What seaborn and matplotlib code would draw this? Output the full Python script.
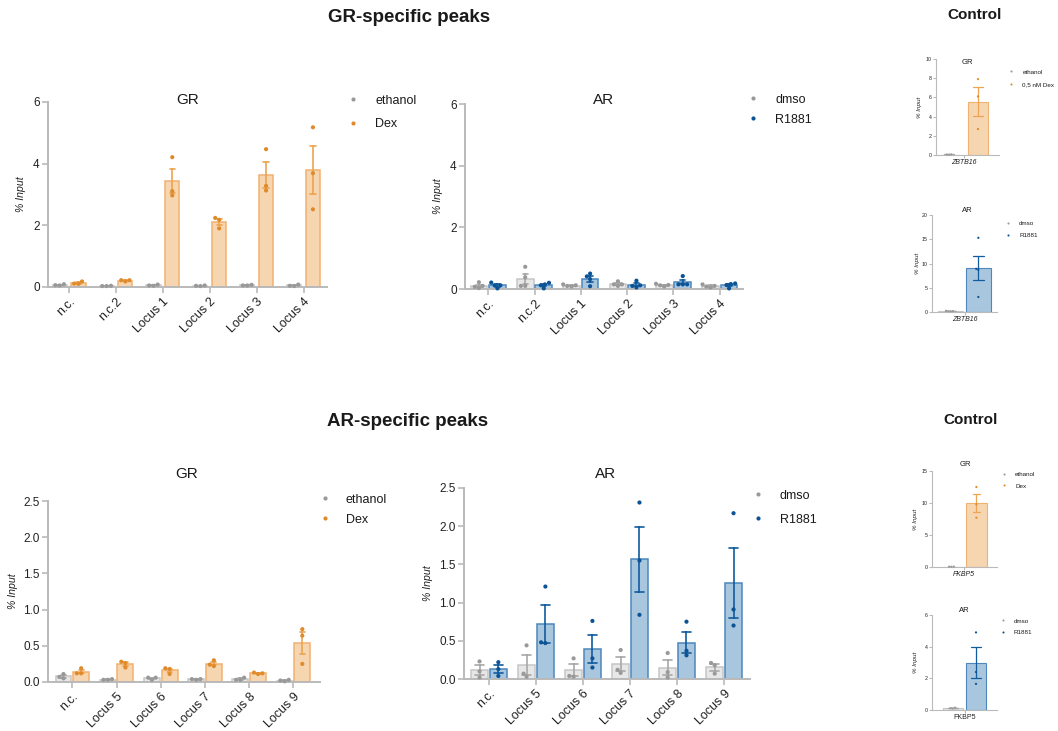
import numpy as np
import pandas as pd
import matplotlib
matplotlib.use("Agg")
import matplotlib.pyplot as plt
from matplotlib.lines import Line2D
import seaborn as sns

W, H = 1058, 731

sns.set_theme(style="ticks")
plt.rcParams["font.family"] = ["Liberation Sans", "DejaVu Sans"]

# ---------------- data: % input per replicate ----------------
gr_loci = ["n.c.", "n.c.2", "Locus 1", "Locus 2", "Locus 3", "Locus 4"]
gr_ethanol = [[0.05, 0.09, 0.06], [0.03, 0.04, 0.03], [0.04, 0.08, 0.05],
              [0.03, 0.05, 0.04], [0.05, 0.07, 0.05], [0.03, 0.08, 0.04]]
gr_dex = [[0.11, 0.18, 0.10], [0.18, 0.22, 0.22], [4.21, 3.11, 2.97],
          [2.24, 2.18, 1.90], [4.47, 3.28, 3.13], [5.18, 3.69, 2.52]]

ar_loci = ["n.c.", "n.c.2", "Locus 1", "Locus 2", "Locus 3", "Locus 4"]
ar_dmso = [[0.03, 0.22, 0.10, 0.07], [0.72, 0.38, 0.10, 0.10], [0.08, 0.15, 0.12, 0.10],
           [0.10, 0.25, 0.15, 0.15], [0.08, 0.17, 0.12, 0.13], [0.05, 0.10, 0.08, 0.15]]
ar_r1881 = [[0.21, 0.02, 0.12, 0.12], [0.20, 0.02, 0.15, 0.12], [0.41, 0.50, 0.09, 0.32],
            [0.05, 0.27, 0.12, 0.10], [0.42, 0.15, 0.15, 0.15], [0.18, 0.02, 0.13, 0.16]]

gr2_loci = ["n.c.", "Locus 5", "Locus 6", "Locus 7", "Locus 8", "Locus 9"]
gr2_ethanol = [[0.11, 0.05, 0.07], [0.03, 0.04, 0.03], [0.03, 0.06, 0.06],
               [0.03, 0.04, 0.04], [0.03, 0.06, 0.03], [0.01, 0.03, 0.02]]
gr2_dex = [[0.19, 0.12, 0.12], [0.28, 0.26, 0.20], [0.19, 0.18, 0.11],
           [0.30, 0.22, 0.24], [0.11, 0.13, 0.12], [0.73, 0.64, 0.25]]

ar2_loci = ["n.c.", "Locus 5", "Locus 6", "Locus 7", "Locus 8", "Locus 9"]
ar2_dmso = [[0.23, 0.10, 0.02], [0.44, 0.07, 0.03], [0.27, 0.04, 0.03],
            [0.38, 0.12, 0.08], [0.34, 0.09, 0.02], [0.21, 0.18, 0.07]]
ar2_r1881 = [[0.22, 0.13, 0.04], [1.21, 0.47, 0.48], [0.76, 0.27, 0.15],
             [2.31, 1.55, 0.84], [0.75, 0.37, 0.31], [2.17, 0.91, 0.70]]

# control loci
zbtb16_gr_ethanol = [[0.04, 0.06, 0.05]]
zbtb16_gr_dex = [[7.9, 6.1, 2.7]]
zbtb16_ar_dmso = [[0.15, 0.25, 0.20, 0.18]]
zbtb16_ar_r1881 = [[15.3, 8.7, 8.9, 3.1]]
fkbp5_gr_ethanol = [[0.04, 0.06, 0.05]]
fkbp5_gr_dex = [[12.5, 9.8, 7.7]]
fkbp5_ar_dmso = [[0.10, 0.15, 0.12]]
fkbp5_ar_r1881 = [[4.9, 2.4, 1.65]]

# ---------------- styling ----------------
GREY = dict(fill="#e7e7e7", edge="#c6c6c6", err="#a8a8a8", pt="#999999")
ORANGE = dict(fill="#f6d6b1", edge="#f1b170", err="#eea452", pt="#df8b2b")
BLUE = dict(fill="#a9c6df", edge="#4d87bd", err="#115c9e", pt="#0b5394")
SPINE = "#bababa"

fig = plt.figure(figsize=(W / 100, H / 100), dpi=100)


def rect(l, t, r, b):
    return [l / W, 1 - b / H, (r - l) / W, (b - t) / H]


def fx(x):
    return x / W


def fy(y):
    return 1 - y / H


def long_frame(loci, groups):
    rows = []
    for treat, reps in groups.items():
        for locus, vals in zip(loci, reps):
            for v in vals:
                rows.append((locus, treat, v))
    return pd.DataFrame(rows, columns=["locus", "treat", "value"])


def add_legend(ax, labels, colors, mx, y1, y2, tx, fs, ms):
    fpx = fs * 100 / 72
    hl = 1.0
    rowh = 1.12 * fpx
    htp = (tx - mx) / fpx - hl / 2
    handles = [Line2D([], [], marker="o", linestyle="none", markersize=ms,
                      markerfacecolor=c, markeredgewidth=0) for c in colors]
    ax.legend(handles, labels, loc="upper left", frameon=False, fontsize=fs,
              handlelength=hl, handletextpad=htp,
              labelspacing=(y2 - y1 - rowh) / fpx,
              borderpad=0, borderaxespad=0,
              bbox_to_anchor=(fx(mx - hl * fpx / 2), fy(y1 - rowh / 2)),
              bbox_transform=fig.transFigure, labelcolor="#1a1a1a")


def bar_panel(box, loci, groups, styles, ylim, yticks, gap, capsize, xlim,
              ms, small=False, ylab_dx=-22, italic_x=False, tick_fs=8.5,
              xtick_fs=9, ylab_fs=7.6):
    ax = fig.add_axes(rect(*box))
    df = long_frame(loci, groups)
    levels = list(groups.keys())
    fill_map = {lev: s["fill"] for lev, s in zip(levels, styles)}
    pt_map = {lev: s["pt"] for lev, s in zip(levels, styles)}
    lw = 0.8 if small else 1.1
    # one call per treatment so each gets its own outline / error colour
    for lev, s in zip(levels, styles):
        sns.barplot(data=df[df["treat"] == lev], x="locus", y="value", hue="treat",
                    order=loci, hue_order=levels, palette=fill_map, saturation=1,
                    width=0.8, gap=gap, dodge=True, edgecolor=s["edge"], linewidth=lw,
                    errorbar="se", capsize=capsize,
                    err_kws={"color": s["err"], "linewidth": lw + 0.1},
                    legend=False, ax=ax)
    sns.swarmplot(data=df, x="locus", y="value", hue="treat", order=loci,
                  hue_order=levels, palette=pt_map, dodge=True, size=ms,
                  linewidth=0, legend=False, ax=ax, zorder=4, clip_on=False,
                  warn_thresh=1.0)
    ax.set_ylim(*ylim)
    ax.set_yticks(yticks)
    ax.set_xlim(*xlim)
    sns.despine(ax=ax)
    for sp in ("left", "bottom"):
        ax.spines[sp].set_color(SPINE)
        ax.spines[sp].set_linewidth(0.8 if small else 1.4)
    ax.tick_params(color=SPINE, width=0.8 if small else 1.2,
                   length=2 if small else 4, labelcolor="#222222",
                   labelsize=tick_fs, pad=1 if small else 2)
    ax.set_xlabel("")
    ax.set_ylabel("% Input", fontstyle="italic", fontsize=ylab_fs, color="#222222")
    ax.yaxis.set_label_coords(ylab_dx / (box[2] - box[0]), 0.5)
    ax.tick_params(axis="x", labelsize=xtick_fs)
    if small:
        for t in ax.get_xticklabels():
            t.set_fontstyle("italic" if italic_x else "normal")
    else:
        plt.setp(ax.get_xticklabels(), rotation=45, ha="right",
                 rotation_mode="anchor")
    return ax, levels


def title(text, x, y, fs, bold=False):
    fig.text(fx(x), fy(y), text, ha="center", va="center", fontsize=fs,
             fontweight="bold" if bold else "normal", color="#1a1a1a")


# ---------------- main panels ----------------
ax, lv = bar_panel((48, 102, 327, 287), gr_loci,
                   {"ethanol": gr_ethanol, "Dex": gr_dex}, [GREY, ORANGE],
                   (0, 6), [0, 2, 4, 6], gap=0.25, capsize=0.22,
                   xlim=(-0.45, 5.5), ms=3.0, ylab_dx=-22)
add_legend(ax, lv, [GREY["pt"], ORANGE["pt"]], 353, 101.7, 127.3, 375, 9, 3.0)

ax, lv = bar_panel((465, 104, 743, 289), ar_loci,
                   {"dmso": ar_dmso, "R1881": ar_r1881}, [GREY, BLUE],
                   (0, 6), [0, 2, 4, 6], gap=0.1, capsize=0.23,
                   xlim=(-0.5, 5.5), ms=3.0, ylab_dx=-22)
add_legend(ax, lv, [GREY["pt"], BLUE["pt"]], 753.3, 100.7, 122.7, 775, 9, 3.0)

ax, lv = bar_panel((48, 501, 320, 682), gr2_loci,
                   {"ethanol": gr2_ethanol, "Dex": gr2_dex}, [GREY, ORANGE],
                   (0, 2.5), [0, 0.5, 1.0, 1.5, 2.0, 2.5], gap=0.1, capsize=0.23,
                   xlim=(-0.55, 5.6), ms=3.0, ylab_dx=-30)
ax.yaxis.set_major_formatter(matplotlib.ticker.FormatStrFormatter("%.1f"))
add_legend(ax, lv, [GREY["pt"], ORANGE["pt"]], 325, 500.7, 522.7, 345.7, 9, 3.0)

ax, lv = bar_panel((464, 488, 750, 679), ar2_loci,
                   {"dmso": ar2_dmso, "R1881": ar2_r1881}, [GREY, BLUE],
                   (0, 2.5), [0, 0.5, 1.0, 1.5, 2.0, 2.5], gap=0.12, capsize=0.36,
                   xlim=(-0.53, 5.55), ms=3.0, ylab_dx=-31)
ax.yaxis.set_major_formatter(matplotlib.ticker.FormatStrFormatter("%.1f"))
add_legend(ax, lv, [GREY["pt"], BLUE["pt"]], 758.3, 496.7, 522.7, 780, 9, 3.0)

# ---------------- control panels ----------------
ax, lv = bar_panel((936, 59, 999, 155), ["ZBTB16"],
                   {"ethanol": zbtb16_gr_ethanol, "0,5 nM Dex": zbtb16_gr_dex},
                   [GREY, ORANGE], (0, 10), [0, 2, 4, 6, 8, 10], gap=0.3,
                   capsize=0.28, xlim=(-0.38, 0.49), ms=1.6, small=True,
                   ylab_dx=-14.5, italic_x=True, tick_fs=3.8, xtick_fs=5, ylab_fs=4.5)
add_legend(ax, lv, [GREY["pt"], ORANGE["pt"]], 1011, 72.7, 86.7, 1022.3, 4.5, 1.5)

ax, lv = bar_panel((932, 215, 997, 312), ["ZBTB16"],
                   {"dmso": zbtb16_ar_dmso, "R1881": zbtb16_ar_r1881},
                   [GREY, BLUE], (0, 20), [0, 5, 10, 15, 20], gap=0.11,
                   capsize=0.33, xlim=(-0.47, 0.47), ms=1.6, small=True,
                   ylab_dx=-12.5, italic_x=True, tick_fs=3.8, xtick_fs=5, ylab_fs=4.5)
add_legend(ax, lv, [GREY["pt"], BLUE["pt"]], 1008.3, 224.3, 237.7, 1019, 4.5, 1.5)

ax, lv = bar_panel((932, 471, 997, 567), ["FKBP5"],
                   {"ethanol": fkbp5_gr_ethanol, "Dex": fkbp5_gr_dex},
                   [GREY, ORANGE], (0, 15), [0, 5, 10, 15], gap=0.16,
                   capsize=0.21, xlim=(-0.51, 0.53), ms=1.6, small=True,
                   ylab_dx=-14.5, italic_x=True, tick_fs=3.8, xtick_fs=5, ylab_fs=4.5)
add_legend(ax, lv, [GREY["pt"], ORANGE["pt"]], 1004.3, 475, 488.3, 1015, 4.5, 1.5)

ax, lv = bar_panel((932, 615, 997, 710), ["FKBP5"],
                   {"dmso": fkbp5_ar_dmso, "R1881": fkbp5_ar_r1881},
                   [GREY, BLUE], (0, 6), [0, 2, 4, 6], gap=0.09,
                   capsize=0.33, xlim=(-0.565, 0.565), ms=1.6, small=True,
                   ylab_dx=-14.5, italic_x=False, tick_fs=3.8, xtick_fs=5, ylab_fs=4.5)
add_legend(ax, lv, [GREY["pt"], BLUE["pt"]], 1003.3, 621.7, 635, 1013.3, 4.5, 1.5)

# ---------------- titles ----------------
title("GR-specific peaks", 409, 18, 13.5, bold=True)
title("Control", 975, 15, 11, bold=True)
title("AR-specific peaks", 408, 421, 13.5, bold=True)
title("Control", 971, 420, 11, bold=True)

title("GR", 188, 100, 11)
title("AR", 604, 100, 11)
title("GR", 187, 474, 11)
title("AR", 606, 474, 11)

title("GR", 967, 62, 5.5)
title("AR", 967, 211, 5.5)
title("GR", 965, 465, 5.5)
title("AR", 964, 611, 5.5)

fig.savefig("out.png", dpi=100, facecolor="white")
